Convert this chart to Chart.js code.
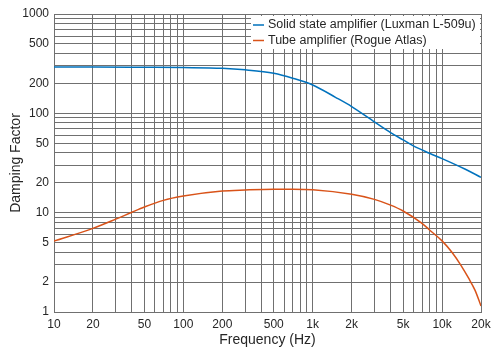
<!DOCTYPE html>
<html><head><meta charset="utf-8">
<script src="https://cdn.jsdelivr.net/npm/chart.js@4/dist/chart.umd.min.js"></script>
<style>html,body{margin:0;padding:0;background:#fff}#wrap{width:500px;height:357px;position:relative}</style>
</head><body><div id="wrap"><canvas id="c" width="500" height="357"></canvas></div>
<script>
// Data (frequency in Hz, damping factor)
const solidFreq = [10, 20, 50, 100, 200, 300, 500, 700, 1000, 1500, 2000, 3000, 4000, 5000, 6000, 8000, 10000, 15000, 20000];
const solidDF   = [292, 293, 291, 289, 284, 274, 253, 226, 193, 145, 117, 82, 64, 54, 47, 39.6, 35, 27.5, 22.7];
const tubeFreq  = [10, 20, 30, 40, 50, 70, 100, 200, 300, 500, 700, 1000, 2000, 3000, 4000, 5000, 7000, 8000, 10000, 12000, 14000, 16000, 18000, 20000];
const tubeDF    = [5.18, 6.95, 8.6, 10.1, 11.4, 13.3, 14.7, 16.5, 16.9, 17.2, 17.2, 17.0, 15.3, 13.6, 11.9, 10.4, 7.8, 6.7, 5.2, 3.95, 2.95, 2.2, 1.65, 1.15];
const seriesLabels = ['Solid state amplifier (Luxman L-509u)', 'Tube amplifier (Rogue Atlas)'];
const xTickValues = [10, 20, 50, 100, 200, 500, 1000, 2000, 5000, 10000, 20000];
const xTickText   = ['10', '20', '50', '100', '200', '500', '1k', '2k', '5k', '10k', '20k'];
const yTickValues = [1, 2, 5, 10, 20, 50, 100, 200, 500, 1000];
const yTickText   = ['1', '2', '5', '10', '20', '50', '100', '200', '500', '1000'];
const xTitle = 'Frequency (Hz)';
const yTitle = 'Damping Factor';

function logGrid(decades, last) {
  const out = [];
  decades.forEach(d => { for (let k = 1; k <= 9; k++) out.push(k * d); });
  last.forEach(v => out.push(v));
  return out;
}
const xGrid = logGrid([10, 100, 1000], [10000, 20000]);
const yGrid = logGrid([1, 10, 100], [1000]);

const FONT = "'Liberation Sans', Arial, sans-serif";
Chart.defaults.font.family = FONT;
Chart.defaults.color = '#262626';

const legendInside = {
  id: 'legendInside',
  afterDatasetsDraw(chart) {
    const ctx = chart.ctx;
    const a = chart.chartArea;
    ctx.save();
    ctx.fillStyle = '#ffffff';
    ctx.fillRect(251, a.top + 2, a.right - 1 - 251, 33);
    ctx.font = '12.5px ' + FONT;
    ctx.textBaseline = 'middle';
    ctx.textAlign = 'left';
    chart.data.datasets.forEach((ds, i) => {
      const y = 25 + i * 15.5;
      ctx.strokeStyle = ds.borderColor;
      ctx.lineWidth = 1.5;
      ctx.beginPath(); ctx.moveTo(253, y); ctx.lineTo(264, y); ctx.stroke();
      ctx.fillStyle = '#262626';
      ctx.fillText(ds.label, 268, y);
    });
    ctx.restore();
  }
};

new Chart(document.getElementById('c'), {
  type: 'line',
  data: {
    datasets: [
      { label: seriesLabels[0], data: solidFreq.map((f, i) => ({x: f, y: solidDF[i]})),
        borderColor: '#0072BD', borderWidth: 1.5, pointRadius: 0, cubicInterpolationMode: 'monotone', fill: false },
      { label: seriesLabels[1], data: tubeFreq.map((f, i) => ({x: f, y: tubeDF[i]})),
        borderColor: '#D95319', borderWidth: 1.5, pointRadius: 0, cubicInterpolationMode: 'monotone', fill: false }
    ]
  },
  options: {
    responsive: false,
    animation: false,
    devicePixelRatio: 1,
    layout: { padding: { left: 0, top: 14, right: 19, bottom: 0 } },
    plugins: { legend: { display: false }, tooltip: { enabled: false } },
    scales: {
      x: {
        type: 'logarithmic', min: 10, max: 20000,
        afterBuildTicks: s => { s.ticks = xGrid.map(v => ({value: v})); },
        afterFit: s => { s.height = 45; },
        grid: { color: '#707070', lineWidth: 1, drawTicks: false },
        border: { color: '#707070' },
        ticks: {
          autoSkip: false, maxRotation: 0, padding: 5, font: { size: 12 }, color: '#262626',
          callback: v => { const i = xTickValues.indexOf(v); return i >= 0 ? xTickText[i] : ''; }
        },
        title: { display: true, text: xTitle, font: { size: 14 }, color: '#262626', padding: { top: 0, bottom: 8 } }
      },
      y: {
        type: 'logarithmic', min: 1, max: 1000,
        afterBuildTicks: s => { s.ticks = yGrid.map(v => ({value: v})); },
        afterFit: s => { s.width = 54; },
        grid: { color: '#707070', lineWidth: 1, drawTicks: false },
        border: { color: '#707070' },
        ticks: {
          autoSkip: false, padding: 5, font: { size: 12 }, color: '#262626',
          callback: v => { const i = yTickValues.indexOf(v); return i >= 0 ? yTickText[i] : ''; }
        },
        title: { display: true, text: yTitle, font: { size: 14 }, color: '#262626', padding: { top: 7.5, bottom: 0 } }
      }
    }
  },
  plugins: [legendInside]
});
</script>
</body></html>
